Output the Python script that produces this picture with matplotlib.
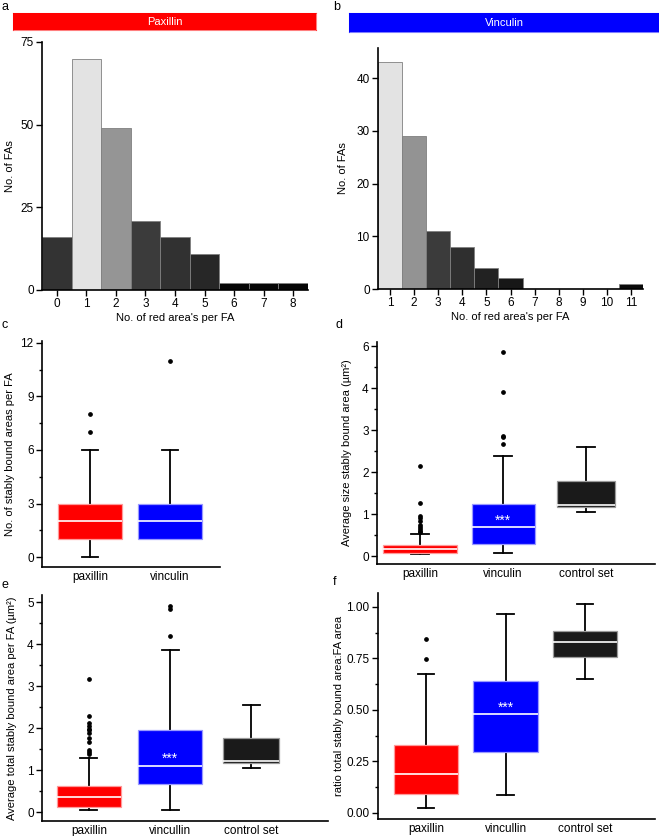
import matplotlib
matplotlib.use("Agg")
import matplotlib.pyplot as plt
import numpy as np
from matplotlib.ticker import MultipleLocator

plt.rcParams['font.family'] = ['Liberation Sans', 'DejaVu Sans']
plt.rcParams['font.size'] = 8

# ---- data: histograms (a, b) ----
pax_counts = [0, 1, 2, 3, 4, 5, 6, 7, 8]
pax_fas = [16, 70, 49, 21, 16, 11, 2, 2, 2]
pax_colors = ['#333333', '#e3e3e3', '#959595', '#3b3b3b', '#313131', '#272727', '#050505', '#050505', '#050505']

vin_counts = [1, 2, 3, 4, 5, 6, 7, 8, 9, 10, 11]
vin_fas = [43, 29, 11, 8, 4, 2, 0, 0, 0, 0, 1]
vin_colors = ['#e3e3e3', '#939393', '#3b3b3b', '#2f2f2f', '#222222', '#171717', '#111111', '#111111', '#111111', '#111111', '#0a0a0a']

# ---- data: box plots (c-f) as whisklo, q1, med, q3, whiskhi, fliers ----
c_labels = ['paxillin', 'vinculin']
c_pax = [0, 1, 2, 3, 6, [7, 8]]
c_vin = [1, 1, 2, 3, 6, [11]]

d_labels = ['paxillin', 'vinculin', 'control set']
d_pax = [0.04, 0.08, 0.17, 0.26, 0.52, [0.57, 0.60, 0.64, 0.68, 0.74, 0.84, 0.90, 0.96, 1.27, 2.15]]
d_vin = [0.08, 0.28, 0.70, 1.23, 2.39, [2.68, 2.84, 2.87, 3.90, 4.87]]
d_ctl = [1.04, 1.17, 1.22, 1.79, 2.60, []]
d_ticklabels = ['0', '1', '2', '3', '4', '6']

e_labels = ['paxillin', 'vincullin', 'control set']
e_pax = [0.06, 0.13, 0.35, 0.62, 1.28, [1.38, 1.44, 1.49, 1.67, 1.77, 1.89, 1.95, 1.99, 2.05, 2.13, 2.29, 3.17]]
e_vin = [0.06, 0.67, 1.10, 1.95, 3.86, [4.19, 4.83, 4.90]]
e_ctl = [1.04, 1.17, 1.21, 1.77, 2.56, []]

f_labels = ['paxillin', 'vincullin', 'control set']
f_pax = [0.023, 0.092, 0.19, 0.33, 0.675, [0.748, 0.843]]
f_vin = [0.087, 0.295, 0.479, 0.64, 0.965, []]
f_ctl = [0.652, 0.757, 0.829, 0.883, 1.013, []]

box_face = ['#ff0000', '#0000ff', '#1a1a1a']
box_edge = ['#ff9a9a', '#9a9aff', '#9a9a9a']

W, H = 659, 836
fig = plt.figure(figsize=(6.59, 8.36), dpi=100)


def rect(l, t, r, b):
    return [l / W, 1 - b / H, (r - l) / W, (b - t) / H]


def style(ax):
    for s in ['top', 'right']:
        ax.spines[s].set_visible(False)
    for s in ['left', 'bottom']:
        ax.spines[s].set_linewidth(1.2)
    ax.tick_params(axis='both', labelsize=8.5, width=1.0, length=4, pad=2)
    ax.tick_params(axis='y', which='minor', length=2.5, width=1.0)


def header(l, t, r, b, text, color):
    hx = fig.add_axes(rect(l, t, r, b))
    hx.set_facecolor(color)
    hx.set_xticks([])
    hx.set_yticks([])
    for s in hx.spines.values():
        s.set_edgecolor(color)
        s.set_alpha(0.5)
    hx.text(0.5, 0.45, text, color='white', ha='center', va='center', fontsize=8, transform=hx.transAxes)


def boxes(ax, stats_in, labels, widths):
    stats = []
    for s, lab in zip(stats_in, labels):
        stats.append(dict(whislo=s[0], q1=s[1], med=s[2], q3=s[3], whishi=s[4], fliers=s[5], label=lab))
    res = ax.bxp(stats, positions=range(1, len(stats) + 1), widths=widths, patch_artist=True,
                 capwidths=0.21, showfliers=True,
                 whiskerprops=dict(color='black', lw=1.3),
                 capprops=dict(color='black', lw=1.3),
                 medianprops=dict(color='white', lw=1.2),
                 flierprops=dict(marker='o', markersize=2.4, markerfacecolor='black',
                                 markeredgecolor='black'))
    for i, b in enumerate(res['boxes']):
        b.set_facecolor(box_face[i])
        b.set_edgecolor(box_edge[i])
        b.set_linewidth(0.9)
        b.set_zorder(3)
    for m in res['medians']:
        m.set_zorder(4)


# ---- a ----
header(13, 13, 316, 30, 'Paxillin', '#ff0000')
ax = fig.add_axes(rect(42, 42, 308, 290))
ax.bar(pax_counts, pax_fas, width=1.0, color=pax_colors, edgecolor='#808080', linewidth=0.6)
ax.set_xlim(-0.5, 8.5)
ax.set_ylim(0, 75)
ax.set_yticks([0, 25, 50, 75])
ax.set_xticks(pax_counts)
style(ax)
ax.set_ylabel('No. of FAs', fontsize=8, labelpad=4)
ax.set_xlabel("No. of red area's per FA", fontsize=8, labelpad=2)

# ---- b ----
header(349, 13, 659, 32, 'Vinculin', '#0000ff')
ax = fig.add_axes(rect(378, 48, 643, 289))
ax.bar(vin_counts, vin_fas, width=1.0, color=vin_colors, edgecolor='#808080', linewidth=0.6)
ax.set_xlim(0.5, 11.5)
ax.set_ylim(0, 45.7)
ax.set_yticks([0, 10, 20, 30, 40])
ax.set_xticks(vin_counts)
style(ax)
ax.set_ylabel('No. of FAs', fontsize=8, labelpad=6)
ax.set_xlabel("No. of red area's per FA", fontsize=8, labelpad=2)

# ---- c ----
ax = fig.add_axes(rect(42, 341, 220, 567))
boxes(ax, [c_pax, c_vin], c_labels, [0.81, 0.81])
ax.set_xlim(0.4, 2.625)
ax.set_ylim(-0.55, 12.1)
ax.set_yticks([0, 3, 6, 9, 12])
ax.yaxis.set_minor_locator(MultipleLocator(1.5))
style(ax)
ax.tick_params(axis='x', length=0, pad=3)
ax.set_ylabel('No. of stably bound areas per FA', fontsize=8, labelpad=4)

# ---- d ----
ax = fig.add_axes(rect(377, 342, 655, 564))
boxes(ax, [d_pax, d_vin, d_ctl], d_labels, [0.89, 0.76, 0.70])
ax.set_xlim(0.48, 3.83)
ax.set_ylim(-0.19, 5.1)
ax.set_yticks(range(6))
ax.set_yticklabels(d_ticklabels)
ax.yaxis.set_minor_locator(MultipleLocator(0.5))
style(ax)
ax.tick_params(axis='x', length=0, pad=3)
ax.text(2, 0.84, '***', color='white', ha='center', va='center', fontsize=10, zorder=5)
ax.set_ylabel('Average size stably bound area (µm²)', fontsize=8, labelpad=7)

# ---- e ----
ax = fig.add_axes(rect(42, 595, 328, 821))
boxes(ax, [e_pax, e_vin, e_ctl], e_labels, [0.80, 0.78, 0.69])
ax.set_xlim(0.42, 3.95)
ax.set_ylim(-0.21, 5.17)
ax.set_yticks(range(6))
ax.yaxis.set_minor_locator(MultipleLocator(0.5))
style(ax)
ax.tick_params(axis='x', length=0, pad=3)
ax.text(2, 1.26, '***', color='white', ha='center', va='center', fontsize=10, zorder=5)
ax.set_ylabel('Average total stably bound area per FA (µm²)', fontsize=8, labelpad=7)

# ---- f ----
ax = fig.add_axes(rect(378, 593, 655, 819))
boxes(ax, [f_pax, f_vin, f_ctl], f_labels, [0.81, 0.81, 0.81])
ax.set_xlim(0.396, 3.88)
ax.set_ylim(-0.03, 1.068)
ax.set_yticks([0, 0.25, 0.5, 0.75, 1.0])
ax.set_yticklabels(['0.00', '0.25', '0.50', '0.75', '1.00'])
ax.yaxis.set_minor_locator(MultipleLocator(0.125))
style(ax)
ax.tick_params(axis='x', length=0, pad=3)
ax.text(2, 0.508, '***', color='white', ha='center', va='center', fontsize=10, zorder=5)
ax.set_ylabel('ratio total stably bound area:FA area', fontsize=8, labelpad=2)

# panel letters
for letter, x, y in [('a', 2, 7), ('b', 333, 7), ('c', 2, 325), ('d', 335, 325), ('e', 2, 585), ('f', 333, 582)]:
    fig.text(x / W, 1 - y / H, letter, fontsize=9, ha='left', va='center')

fig.savefig('out.png', dpi=100)
